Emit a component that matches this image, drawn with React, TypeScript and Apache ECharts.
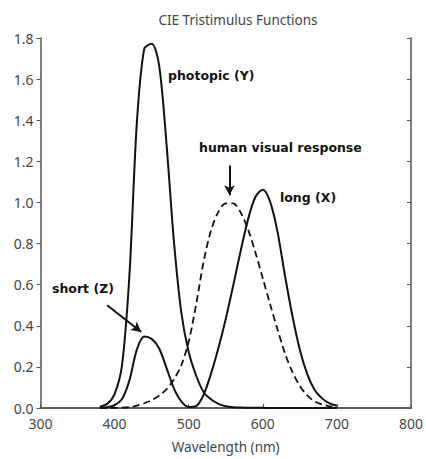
import React, { useEffect, useRef } from "react";
import * as echarts from "echarts";

const wavelengths = [380, 390, 400, 410, 420, 430, 440, 450, 460, 470, 480, 490, 500, 510, 520, 530, 540, 550, 560, 570, 580, 590, 600, 610, 620, 630, 640, 650, 660, 670, 680, 690, 700];
const longX = [0.0014, 0.0042, 0.0143, 0.0435, 0.1344, 0.2839, 0.3483, 0.3362, 0.2908, 0.1954, 0.0956, 0.032, 0.0049, 0.0093, 0.0633, 0.1655, 0.2904, 0.4334, 0.5945, 0.7621, 0.9163, 1.0263, 1.0622, 1.0026, 0.8544, 0.6424, 0.4479, 0.2835, 0.1649, 0.0874, 0.0468, 0.0227, 0.0114];
const visualY = [0.0, 0.0001, 0.0004, 0.0012, 0.004, 0.0116, 0.023, 0.038, 0.06, 0.091, 0.139, 0.208, 0.323, 0.503, 0.71, 0.862, 0.954, 0.995, 0.995, 0.952, 0.87, 0.757, 0.631, 0.503, 0.381, 0.265, 0.175, 0.107, 0.061, 0.032, 0.017, 0.0082, 0.0041];
const shortZ = [0.0065, 0.0201, 0.0679, 0.2074, 0.6456, 1.3856, 1.7471, 1.7721, 1.6692, 1.2876, 0.813, 0.4652, 0.272, 0.1582, 0.0782, 0.0422, 0.0203, 0.0087, 0.0039, 0.0021, 0.0017, 0.0011, 0.0008, 0.0003, 0.0002, 0, 0, 0, 0, 0, 0, 0, 0];

const xTicks = [300, 400, 500, 600, 700, 800];
const yTicks = [0, 0.2, 0.4, 0.6, 0.8, 1.0, 1.2, 1.4, 1.6, 1.8];

const title = "CIE Tristimulus Functions";
const xName = "Wavelength (nm)";
const annotations = [
  { text: "photopic (Y)", x: 168, y: 75 },
  { text: "human visual response", x: 199, y: 147 },
  { text: "long (X)", x: 280, y: 197 },
  { text: "short (Z)", x: 52, y: 288 },
];
const arrowVisual = [[555, 1.18], [555, 1.035]];
const arrowShort = [[390, 0.5], [436, 0.37]];

const pairs = (ys: number[]) => wavelengths.map((w, i) => [w, ys[i]]);

export default function App() {
  const ref = useRef<HTMLDivElement>(null);
  useEffect(() => {
    if (!ref.current) return;
    const chart = echarts.init(ref.current, null, { renderer: "svg" });
    const labelFont = { fontFamily: "Noto Sans", fontSize: 14, color: "#444" };
    const axisLine = { show: true, lineStyle: { color: "#555", width: 1.5 } };
    const tick = { show: true, inside: true, length: 4, lineStyle: { color: "#555", width: 1 } };
    chart.setOption({
      animation: false,
      title: {
        text: title,
        left: 233,
        top: 8,
        textAlign: "center",
        textStyle: { fontFamily: "Noto Sans", fontSize: 13.5, fontWeight: "normal", color: "#444" },
      },
      grid: { left: 40.5, right: 13, top: 38, bottom: 51 },
      xAxis: [
        {
          type: "value",
          min: xTicks[0],
          max: xTicks[xTicks.length - 1],
          interval: 100,
          position: "bottom",
          name: xName,
          nameLocation: "middle",
          nameGap: 32,
          nameTextStyle: { ...labelFont, fontSize: 13.5 },
          axisLine,
          axisTick: tick,
          axisLabel: { ...labelFont, margin: 8 },
          splitLine: { show: false },
        },
        {
          type: "value",
          min: xTicks[0],
          max: xTicks[xTicks.length - 1],
          interval: 100,
          position: "top",
          axisLine,
          axisTick: { ...tick, inside: false },
          axisLabel: { show: false },
          splitLine: { show: false },
        },
      ],
      yAxis: [
        {
          type: "value",
          min: yTicks[0],
          max: yTicks[yTicks.length - 1],
          interval: 0.2,
          position: "left",
          axisLine,
          axisTick: { ...tick, inside: false },
          axisLabel: { ...labelFont, margin: 7, formatter: (v: number) => v.toFixed(1) },
          splitLine: { show: false },
        },
        {
          type: "value",
          min: yTicks[0],
          max: yTicks[yTicks.length - 1],
          interval: 0.2,
          position: "right",
          axisLine,
          axisTick: tick,
          axisLabel: { show: false },
          splitLine: { show: false },
        },
      ],
      series: [
        {
          name: "photopic (Y)",
          type: "line",
          data: pairs(shortZ),
          showSymbol: false,
          smooth: 0.3,
          lineStyle: { color: "#111", width: 2 },
          z: 3,
        },
        {
          name: "short (Z)",
          type: "line",
          data: pairs(longX),
          showSymbol: false,
          smooth: 0.3,
          lineStyle: { color: "#111", width: 2 },
          z: 3,
          markLine: {
            silent: true,
            symbol: ["none", "arrow"],
            symbolSize: [8, 10],
            label: { show: false },
            lineStyle: { color: "#111", width: 2, type: "solid" },
            data: [[{ coord: arrowShort[0] }, { coord: arrowShort[1] }]],
          },
        },
        {
          name: "human visual response",
          type: "line",
          data: pairs(visualY),
          showSymbol: false,
          smooth: 0.3,
          lineStyle: { color: "#111", width: 1.8, type: [7, 4] },
          z: 3,
          markLine: {
            silent: true,
            symbol: ["none", "arrow"],
            symbolSize: [8, 10],
            label: { show: false },
            lineStyle: { color: "#111", width: 2, type: "solid" },
            data: [[{ coord: arrowVisual[0] }, { coord: arrowVisual[1] }]],
          },
        },
      ],
      graphic: annotations.map((a) => ({
        type: "text",
        x: a.x,
        y: a.y,
        style: {
          text: a.text,
          fontFamily: "DejaVu Sans",
          fontWeight: "bold",
          fontSize: 12.5,
          fill: "#111",
          textVerticalAlign: "middle",
          verticalAlign: "middle",
        },
      })),
    });
    return () => chart.dispose();
  }, []);
  return (
    <div
      ref={ref}
      style={{ position: "absolute", left: 0, top: 0, width: 426, height: 459, background: "#fff" }}
    />
  );
}
